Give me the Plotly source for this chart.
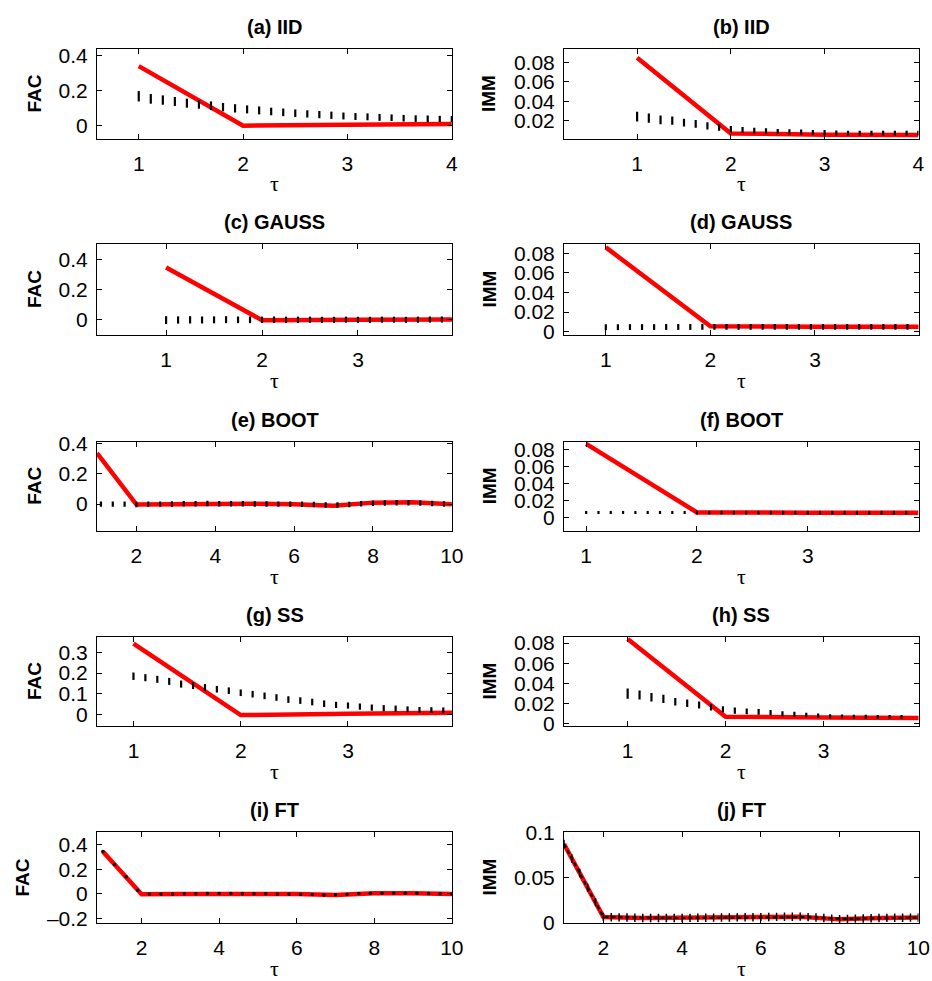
import plotly.graph_objects as go

W, H = 932, 981          # browser window == figure (page margin removed below)

# ---------------- data ----------------
titles = ["(a) IID", "(b) IID", "(c) GAUSS", "(d) GAUSS", "(e) BOOT",
          "(f) BOOT", "(g) SS", "(h) SS", "(i) FT", "(j) FT"]
ylabels = ["FAC", "IMM", "FAC", "IMM", "FAC", "IMM", "FAC", "IMM", "FAC", "IMM"]

# original series (red), at lags 1..n
red_a = [0.341, -0.003, 0.003, 0.007]
red_b = [0.085, 0.0068, 0.0055, 0.0052]
red_c = [0.345, -0.002, 0.0, 0.003]
red_d = [0.086, 0.0055, 0.005, 0.005]
red_e = [0.338, -0.003, 0.0, 0.004, 0.002, 0.0, -0.01, 0.01, 0.012, 0.0]
red_f = [0.087, 0.0063, 0.006, 0.0058]
red_g = [0.343, -0.003, 0.003, 0.008]
red_h = [0.084, 0.0072, 0.0065, 0.006]
red_i = [0.346, -0.003, 0.0, 0.003, 0.002, 0.0, -0.008, 0.005, 0.006, 0.0]
red_j = [0.087, 0.0067, 0.0055, 0.0055, 0.006, 0.0065, 0.007, 0.004, 0.0055, 0.006]

# surrogate boxplots: (first position, spacing, medians, half box heights)
box_a_pos = (1.0, 3 / 26)
box_a_med = [0.167, 0.152, 0.145, 0.137, 0.127, 0.12, 0.112, 0.104, 0.097, 0.091, 0.085,
             0.079, 0.074, 0.069, 0.065, 0.061, 0.057, 0.053, 0.05, 0.048, 0.045, 0.043,
             0.04, 0.038, 0.037, 0.036, 0.035]
box_a_half = [0.03, 0.028, 0.027, 0.026, 0.026, 0.025, 0.025, 0.024, 0.024, 0.023, 0.023,
              0.022, 0.022, 0.022, 0.021, 0.021, 0.021, 0.02, 0.02, 0.02, 0.02, 0.019,
              0.019, 0.019, 0.019, 0.018, 0.018]

box_b_pos = (1.0, 0.125)
box_b_med = [0.0242, 0.0225, 0.0207, 0.02, 0.018, 0.0166, 0.0145, 0.013, 0.011, 0.0103,
             0.0096, 0.009, 0.0086, 0.0083, 0.008, 0.0076, 0.0076, 0.0072, 0.007, 0.007,
             0.007, 0.007, 0.007, 0.007, 0.007]
box_b_half = [0.005, 0.0048, 0.0045, 0.0043, 0.004, 0.004, 0.0038, 0.0036, 0.0034, 0.0032,
              0.003, 0.003, 0.0028, 0.0028, 0.0027, 0.0026, 0.0026, 0.0025, 0.0025, 0.0025,
              0.0025, 0.0025, 0.0025, 0.0025, 0.0025]

box_c_pos = (1.0, 0.125)
box_c_med = [-0.002, -0.001, 0.0, -0.001, 0.0, 0.001, 0.0, 0.0, 0.0, 0.001, 0.0, 0.0,
             0.001, 0.0, 0.0, 0.001, 0.0, 0.0, 0.001, 0.001, 0.0, 0.001, 0.002, 0.002]
box_c_half = [0.026, 0.024, 0.024, 0.023, 0.023, 0.023, 0.022, 0.022, 0.021, 0.021, 0.021,
              0.021, 0.02, 0.02, 0.02, 0.02, 0.02, 0.02, 0.02, 0.02, 0.02, 0.02, 0.02, 0.02]

box_d_pos = (1.0, 3 / 26)
box_d_med = [0.0045, 0.0045, 0.0046, 0.0046, 0.0046, 0.0047, 0.0047, 0.0047, 0.0048, 0.0048,
             0.0048, 0.0048, 0.0048, 0.0048, 0.0048, 0.0048, 0.0048, 0.0048, 0.0048, 0.0048,
             0.0048, 0.0048, 0.0048, 0.0048, 0.0048, 0.0048]
box_d_half = [0.003, 0.003, 0.003, 0.003, 0.003, 0.003, 0.003, 0.003, 0.003, 0.003, 0.003,
              0.003, 0.003, 0.003, 0.003, 0.003, 0.003, 0.003, 0.003, 0.003, 0.003, 0.003,
              0.003, 0.003, 0.003, 0.003]

box_e_pos = (1.1, 0.3)
box_e_med = [0.0, 0.0, 0.0, -0.002, 0.0, 0.0, 0.001, 0.002, 0.003, 0.004, 0.003, 0.002,
             0.002, 0.001, 0.001, 0.0, 0.0, -0.001, -0.003, -0.006, -0.006, -0.002, 0.002,
             0.006, 0.008, 0.009, 0.009, 0.007, 0.004, 0.001]
box_e_half = [0.017, 0.017, 0.017, 0.018, 0.018, 0.018, 0.018, 0.018, 0.018, 0.018, 0.018,
              0.018, 0.018, 0.018, 0.018, 0.018, 0.018, 0.018, 0.018, 0.018, 0.018, 0.018,
              0.018, 0.018, 0.018, 0.018, 0.018, 0.018, 0.018, 0.018]

box_f_pos = (1.0, 1 / 9)
box_f_med = [0.0062, 0.0062, 0.0062, 0.0062, 0.0062, 0.0062, 0.0062, 0.0062, 0.0062, 0.0061,
             0.0061, 0.0061, 0.006, 0.006, 0.006, 0.006, 0.006, 0.006, 0.006, 0.006,
             0.006, 0.006, 0.006, 0.006, 0.0059, 0.0059, 0.0059]
box_f_half = [0.0018, 0.0018, 0.0018, 0.0018, 0.0018, 0.0018, 0.0018, 0.0018, 0.0018, 0.0022,
              0.0022, 0.0022, 0.0022, 0.0022, 0.0022, 0.0022, 0.0022, 0.0022, 0.0022, 0.0022,
              0.0022, 0.0022, 0.0022, 0.0022, 0.0022, 0.0022, 0.0022]

box_g_pos = (1.0, 1 / 9)
box_g_med = [0.185, 0.178, 0.17, 0.16, 0.147, 0.14, 0.13, 0.122, 0.115, 0.105, 0.098, 0.09,
             0.082, 0.072, 0.067, 0.06, 0.052, 0.046, 0.043, 0.038, 0.033, 0.03, 0.028,
             0.025, 0.022, 0.021, 0.02]
box_g_half = [0.018, 0.017, 0.017, 0.017, 0.017, 0.017, 0.017, 0.016, 0.016, 0.016, 0.016,
              0.016, 0.016, 0.016, 0.016, 0.016, 0.016, 0.015, 0.015, 0.015, 0.015, 0.015,
              0.015, 0.014, 0.014, 0.014, 0.014]

box_h_pos = (1.0, 0.1216)
box_h_med = [0.03, 0.0287, 0.0264, 0.0248, 0.022, 0.0205, 0.0188, 0.0165, 0.0145, 0.0132,
             0.0125, 0.0119, 0.0112, 0.0102, 0.0096, 0.0089, 0.0082, 0.0076, 0.0073, 0.0071,
             0.007, 0.0069, 0.0068, 0.0068]
box_h_half = [0.005, 0.0045, 0.0042, 0.004, 0.0038, 0.0036, 0.0034, 0.0032, 0.003, 0.003,
              0.0028, 0.0028, 0.0026, 0.0025, 0.0024, 0.0023, 0.0022, 0.0021, 0.002, 0.002,
              0.002, 0.002, 0.002, 0.002]

# FT surrogates collapse onto the original curve
ft_i_pos = (1.0, 0.3)
ft_i_val = [0.345, 0.24, 0.14, 0.03, 0.0, -0.001, 0.0, 0.001, 0.002, 0.003, 0.003, 0.003,
            0.002, 0.002, 0.001, 0.0, 0.0, -0.002, -0.005, -0.008, -0.007, -0.002, 0.003,
            0.005, 0.006, 0.006, 0.006, 0.005, 0.003, 0.001, 0.0]
ft_j_pos = (1.0, 0.2)
ft_j_val = [0.087, 0.071, 0.055, 0.039, 0.023, 0.0067, 0.0064, 0.0062, 0.006, 0.0057,
            0.0055, 0.0055, 0.0055, 0.0055, 0.0055, 0.0055, 0.0056, 0.0057, 0.0058, 0.0059,
            0.006, 0.0061, 0.0062, 0.0063, 0.0064, 0.0065, 0.0066, 0.0067, 0.0068, 0.0069,
            0.007, 0.0065, 0.006, 0.0055, 0.0048, 0.0042, 0.0045, 0.0048, 0.005, 0.0053,
            0.0055, 0.0056, 0.0057, 0.0058, 0.0059, 0.006]

# axis ranges and ticks
x_ranges = [[0.6, 4.002], [0.22, 4.002], [0.28, 3.98], [0.6, 3.99], [1, 10.004],
            [0.8, 4], [0.66, 3.97], [0.35, 3.97], [0.85, 10.004], [1, 10.004]]
y_ranges = [[-0.08, 0.44], [0.001, 0.094], [-0.1, 0.5], [-0.0035, 0.0895], [-0.178, 0.415],
            [-0.0156, 0.0897], [-0.056, 0.375], [-0.002, 0.086], [-0.236, 0.504], [0, 0.1002]]
x_ticks = [[1, 2, 3, 4], [1, 2, 3, 4], [1, 2, 3], [1, 2, 3], [2, 4, 6, 8, 10],
           [1, 2, 3], [1, 2, 3], [1, 2, 3], [2, 4, 6, 8, 10], [2, 4, 6, 8, 10]]
y_ticks = [[0, 0.2, 0.4], [0.02, 0.04, 0.06, 0.08], [0, 0.2, 0.4], [0, 0.02, 0.04, 0.06, 0.08],
           [0, 0.2, 0.4], [0, 0.02, 0.04, 0.06, 0.08], [0, 0.1, 0.2, 0.3],
           [0, 0.02, 0.04, 0.06, 0.08], [-0.2, 0, 0.2, 0.4], [0, 0.05, 0.1]]

# ---------------- layout geometry (window pixels) ----------------
col_x = [(97, 452), (564, 918.5)]
row_y = [(49, 139), (244, 335), (441.5, 531), (637, 726), (832, 923)]

FONT = "Liberation Sans, Arial, Helvetica, sans-serif"


def px(xw):
    return xw / W


def py(yw):
    return 1 - yw / H


def fmt(v):
    if v == 0:
        return "0"
    return ("%g" % v).replace("-", "\u2013")


def positions(spec, n):
    start, step = spec
    return [start + k * step for k in range(n)]


fig = go.Figure()

reds = [red_a, red_b, red_c, red_d, red_e, red_f, red_g, red_h, red_i, red_j]
boxes = [(box_a_pos, box_a_med, box_a_half), (box_b_pos, box_b_med, box_b_half),
         (box_c_pos, box_c_med, box_c_half), (box_d_pos, box_d_med, box_d_half),
         (box_e_pos, box_e_med, box_e_half), (box_f_pos, box_f_med, box_f_half),
         (box_g_pos, box_g_med, box_g_half), (box_h_pos, box_h_med, box_h_half),
         None, None]

annotations = []
for i in range(10):
    r, c = divmod(i, 2)
    xa = "x" if i == 0 else "x%d" % (i + 1)
    ya = "y" if i == 0 else "y%d" % (i + 1)
    red = reds[i]
    fig.add_trace(go.Scatter(x=list(range(1, len(red) + 1)), y=red, mode="lines",
                             line=dict(color="#ff0000", width=4.5), xaxis=xa, yaxis=ya,
                             showlegend=False, hoverinfo="skip"))
    if boxes[i] is not None:
        spec, med, half = boxes[i]
        pos = positions(spec, len(med))
        xs, ys = [], []
        for p, m, h in zip(pos, med, half):
            xs += [p, p, None]
            ys += [m - h, m + h, None]
        fig.add_trace(go.Scatter(x=xs, y=ys, mode="lines",
                                 line=dict(color="black", width=2.2), xaxis=xa, yaxis=ya,
                                 showlegend=False, hoverinfo="skip"))
    elif i == 8:
        fig.add_trace(go.Scatter(x=positions(ft_i_pos, len(ft_i_val)), y=ft_i_val,
                                 mode="markers", marker=dict(color="black", size=3.5),
                                 xaxis=xa, yaxis=ya, showlegend=False, hoverinfo="skip"))
    else:
        fig.add_trace(go.Scatter(x=positions(ft_j_pos, len(ft_j_val)), y=ft_j_val,
                                 mode="lines+markers",
                                 line=dict(color="black", width=2.2, dash="4px,3px"),
                                 marker=dict(symbol="line-ns", size=6,
                                             line=dict(color="black", width=1.5)),
                                 xaxis=xa, yaxis=ya, showlegend=False, hoverinfo="skip"))

    x0, x1 = col_x[c]
    yt, yb = row_y[r]
    axis_common = dict(showline=True, linecolor="black", linewidth=1, mirror="ticks",
                       ticks="inside", ticklen=5, tickcolor="black", tickwidth=1,
                       showgrid=False, zeroline=False, automargin=False,
                       tickfont=dict(family=FONT, size=21, color="black"))
    fig.layout["xaxis" if i == 0 else "xaxis%d" % (i + 1)] = dict(
        domain=[px(x0), px(x1)], anchor=ya, range=x_ranges[i],
        tickmode="array", tickvals=x_ticks[i], ticktext=[fmt(v) for v in x_ticks[i]],
        ticklabelstandoff=6, **axis_common)
    fig.layout["yaxis" if i == 0 else "yaxis%d" % (i + 1)] = dict(
        domain=[py(yb), py(yt)], anchor=xa, range=y_ranges[i],
        tickmode="array", tickvals=y_ticks[i], ticktext=[fmt(v) for v in y_ticks[i]],
        ticklabelstandoff=4, **axis_common)

    cx = (x0 + x1) / 2
    annotations.append(dict(text="<b>%s</b>" % titles[i], x=px(cx), y=py(yt - 22),
                            xref="paper", yref="paper", showarrow=False,
                            xanchor="center", yanchor="middle",
                            font=dict(family=FONT, size=20, color="black")))
    ylx = 489 if c == 1 else (22 if i == 8 else 34.5)
    annotations.append(dict(text="<b>%s</b>" % ylabels[i], x=px(ylx), y=py((yt + yb) / 2),
                            xref="paper", yref="paper", showarrow=False, textangle=-90,
                            xanchor="center", yanchor="middle",
                            font=dict(family=FONT, size=19, color="black")))
    annotations.append(dict(text="\u03c4", x=px(cx), y=py(yb + 45),
                            xref="paper", yref="paper", showarrow=False,
                            xanchor="center", yanchor="middle",
                            font=dict(family="Liberation Serif, DejaVu Serif, serif",
                                      size=22, color="black")))

fig.update_layout(width=W, height=H, margin=dict(l=0, r=0, t=0, b=0, autoexpand=False),
                  paper_bgcolor="white", plot_bgcolor="white",
                  annotations=annotations, showlegend=False)

fig.write_html("out.html", config={"displayModeBar": False},
               post_script="document.body.style.margin='0';"
                           "document.body.style.overflow='hidden';")
